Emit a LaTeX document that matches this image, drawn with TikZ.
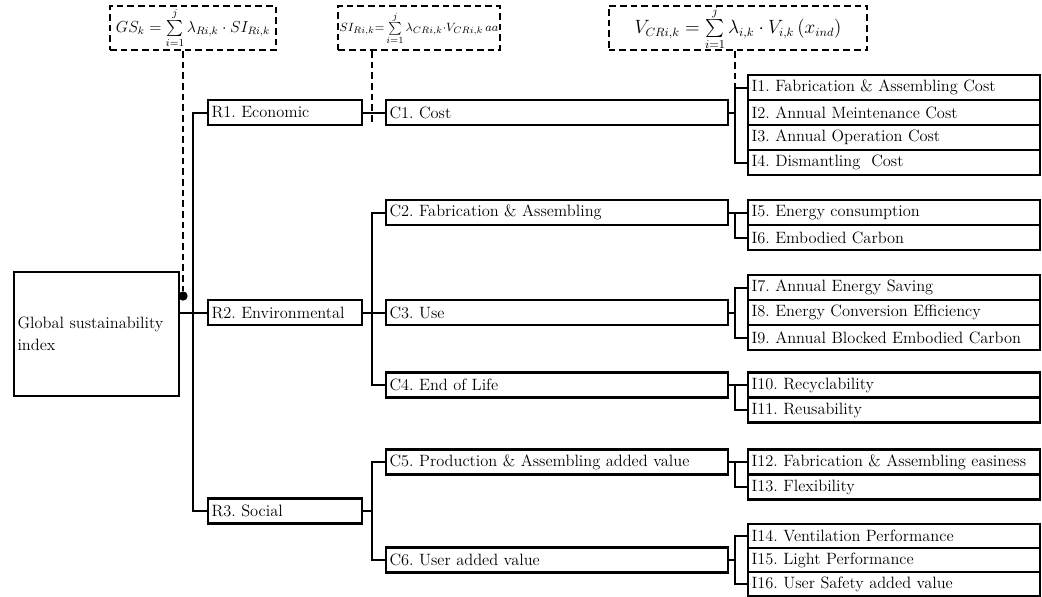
\documentclass[tikz,border=0pt]{standalone}
\usepackage{amsmath,amssymb}
\usepackage{tikz}
\usetikzlibrary{arrows.meta,calc}

\frenchspacing
\newcommand{\limsum}{\sum\limits_{i=1}^{j}}
\tikzset{
  box/.style={draw, line width=1.8pt, anchor=west, align=left, inner sep=2.5pt,
    minimum height=18.75pt, font=\fontsize{12.3}{14}\selectfont},
  rbox/.style={box, text width=110.5pt},
  cbox/.style={box, text width=251.5pt},
  ibox/.style={box, text width=214pt},
  formula/.style={draw, line width=1.6pt, dash pattern=on 5pt off 3pt,
    minimum height=33pt, inner xsep=1pt, inner ysep=0pt},
  link/.style={line width=1.5pt, line cap=rect},
  stem/.style={line width=1.5pt, dash pattern=on 5pt off 3pt},
}

\begin{document}
\begin{tikzpicture}[x=0.75pt, y=-0.75pt]
    \useasboundingbox (0,0) rectangle (1042,596);

    % aggregation formulas
    \node[formula, minimum width=124.5pt, font=\fontsize{12}{14}\selectfont] (f1) at (193,28)
        {$GS_{k} = \limsum \lambda_{Ri,k} \cdot SI_{Ri,k}$};
    \node[formula, minimum width=112.5pt, font=\fontsize{9.5}{11}\selectfont] (f2) at (419,28)
        {$SI_{Ri,k} {=} \limsum \lambda_{CRi,k} {\cdot} V_{CRi,k}\,aa$};
    \node[formula, minimum width=194pt, font=\fontsize{13.5}{16}\selectfont] (f3) at (738,28)
        {$V_{CRi,k} = \limsum \lambda_{i,k} \cdot V_{i,k}\,(x_{ind})$};

    % bus lines
    \coordinate (busR) at (193,0);
    \coordinate (busC) at (372,0);
    \coordinate (busI) at (735,0);

    % index, requirements, criteria
    \node[box, text width=118.5pt, minimum height=93pt, font=\fontsize{12.3}{16.5}\selectfont]
        (gsi) at (13,334) {Global sustainability\\index};

    \node[rbox] (r1) at (207,112.5) {R1. Economic};
    \node[rbox] (r2) at (207,312.5) {R2. Environmental};
    \node[rbox] (r3) at (207,511) {R3. Social};

    \node[cbox] (c1) at (385,112.5) {C1. Cost};
    \node[cbox] (c2) at (385,212.5) {C2. Fabrication \& Assembling};
    \node[cbox] (c3) at (385,312.5) {C3. Use};
    \node[cbox] (c4) at (385,385) {C4. End of Life};
    \node[cbox] (c5) at (385,462) {C5. Production \& Assembling added value};
    \node[cbox] (c6) at (385,560) {C6. User added value};

    % indicators
    \node[ibox] (i1) at (747,87.5) {I1. Fabrication \& Assembling Cost};
    \node[ibox] (i2) at (747,112.5) {I2. Annual Meintenance Cost};
    \node[ibox] (i3) at (747,137.5) {I3. Annual Operation Cost};
    \node[ibox] (i4) at (747,162.5) {I4. Dismantling\ \ Cost};
    \node[ibox] (i5) at (747,212.5) {I5. Energy consumption};
    \node[ibox] (i6) at (747,237.5) {I6. Embodied Carbon};
    \node[ibox] (i7) at (747,287.5) {I7. Annual Energy Saving};
    \node[ibox] (i8) at (747,312.5) {I8. Energy Conversion Efficiency};
    \node[ibox] (i9) at (747,337.5) {I9. Annual Blocked Embodied Carbon};
    \node[ibox] (i10) at (747,385) {I10. Recyclability};
    \node[ibox] (i11) at (747,410) {I11. Reusability};
    \node[ibox] (i12) at (747,462) {I12. Fabrication \& Assembling easiness};
    \node[ibox] (i13) at (747,487) {I13. Flexibility};
    \node[ibox, minimum height=18pt] (i14) at (747,536) {I14. Ventilation Performance};
    \node[ibox, minimum height=18pt] (i15) at (747,560) {I15. Light Performance};
    \node[ibox, minimum height=18pt] (i16) at (747,584) {I16. User Safety added value};

    % tree connectors
    \draw[link] (gsi.east |- r2.west) -- (r2.west);
    \draw[link] (r1.west) -- (busR |- r1.west) -- (busR |- r3.west) -- (r3.west);

    \draw[link] (r1.east) -- (c1.west);
    \draw[link] (r2.east) -- (c3.west);
    \draw[link] (c2.west) -- (busC |- c2.west) -- (busC |- c4.west) -- (c4.west);
    \draw[link] (r3.east) -- (busC |- r3.east);
    \draw[link] (c5.west) -- (busC |- c5.west) -- (busC |- c6.west) -- (c6.west);

    \draw[link] (c1.east) -- (busI |- c1.east);
    \draw[link] (i1.west) -- (busI |- i1.west) -- (busI |- i4.west) -- (i4.west);
    \draw[link] (c2.east) -- (i5.west);
    \draw[link] (busI |- i5.west) -- (busI |- i6.west) -- (i6.west);
    \draw[link] (c3.east) -- (busI |- c3.east);
    \draw[link] (i7.west) -- (busI |- i7.west) -- (busI |- i9.west) -- (i9.west);
    \draw[link] (c4.east) -- (i10.west);
    \draw[link] (busI |- i10.west) -- (busI |- i11.west) -- (i11.west);
    \draw[link] (c5.east) -- (i12.west);
    \draw[link] (busI |- i12.west) -- (busI |- i13.west) -- (i13.west);
    \draw[link] (c6.east) -- (busI |- c6.east);
    \draw[link] (i14.west) -- (busI |- i14.west) -- (busI |- i16.west) -- (i16.west);

    % formula stems
    \node[circle, fill, inner sep=0pt, minimum size=7pt] (dot) at (183,296) {};
    \coordinate (s2) at (372,124);
    \draw[stem] (f1.south -| dot) -- (dot.north);
    \draw[stem] (f2.south -| s2) -- (s2);
    \draw[stem] (f3.south -| busI) -- (busI |- i1.west);
\end{tikzpicture}
\end{document}
